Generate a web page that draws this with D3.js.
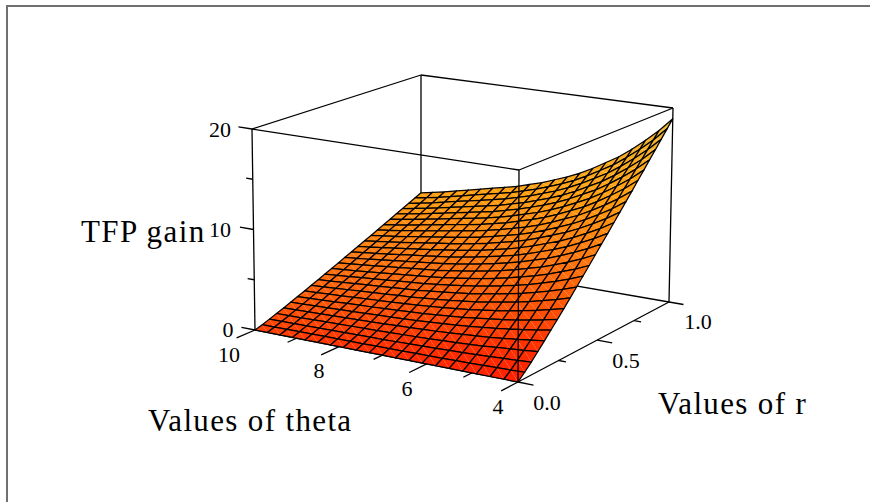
<!DOCTYPE html>
<html>
<head>
<meta charset="utf-8">
<script src="https://cdn.jsdelivr.net/npm/d3@7"></script>
<style>
  html, body { margin: 0; padding: 0; background: #fff; }
  text { font-family: "Liberation Serif", serif; fill: #000; }
</style>
</head>
<body>
<div id="chart"></div>
<script>
// values
var thetaValues = [4, 4.3, 4.6, 4.9, 5.2, 5.5, 5.8, 6.1, 6.4, 6.7, 7, 7.3, 7.6, 7.9, 8.2, 8.5, 8.8, 9.1, 9.4, 9.7, 10];
var rValues = [0, .04, .08, .12, .16, .2, .24, .28, .32, .36, .4, .44, .48, .52, .56, .6, .64, .68, .72, .76, .8, .84, .88, .92, .96, 1];

// one row per theta, one column per r
var gain = [
  [0,.59,1.23,1.91,2.61,3.33,4.04,4.78,5.52,6.27,7.03,7.79,8.56,9.34,10.11,10.89,11.68,12.46,13.25,14.06,14.86,15.67,16.46,17.27,18.09,18.9],
  [0,.54,1.14,1.77,2.42,3.08,3.75,4.43,5.11,5.81,6.51,7.21,7.93,8.65,9.36,10.08,10.82,11.53,12.27,13.02,13.76,14.51,15.24,16.00,16.75,17.5],
  [0,.51,1.06,1.65,2.25,2.87,3.49,4.12,4.76,5.41,6.06,6.72,7.38,8.05,8.72,9.39,10.07,10.74,11.43,12.13,12.81,13.51,14.20,14.90,15.60,16.3],
  [0,.47,.99,1.54,2.10,2.68,3.25,3.85,4.44,5.05,5.65,6.26,6.89,7.51,8.13,8.76,9.39,10.02,10.66,11.31,11.95,12.60,13.24,13.89,14.55,15.2],
  [0,.44,.92,1.43,1.96,2.50,3.04,3.59,4.15,4.71,5.28,5.85,6.43,7.01,7.60,8.18,8.78,9.36,9.95,10.56,11.16,11.77,12.37,12.98,13.59,14.2],
  [0,.42,.87,1.35,1.85,2.36,2.87,3.39,3.91,4.45,4.98,5.52,6.07,6.62,7.17,7.72,8.28,8.83,9.39,9.97,10.53,11.11,11.67,12.25,12.82,13.4],
  [0,.39,.82,1.27,1.74,2.22,2.70,3.19,3.68,4.18,4.69,5.19,5.71,6.22,6.74,7.26,7.79,8.30,8.83,9.37,9.90,10.45,10.97,11.52,12.06,12.6],
  [0,.37,.77,1.20,1.64,2.09,2.55,3.01,3.47,3.95,4.43,4.90,5.39,5.88,6.37,6.85,7.35,7.84,8.34,8.85,9.35,9.87,10.36,10.88,11.39,11.9],
  [0,.35,.73,1.14,1.56,1.99,2.42,2.86,3.30,3.75,4.20,4.66,5.12,5.58,6.05,6.51,6.98,7.45,7.92,8.41,8.88,9.37,9.84,10.33,10.81,11.3],
  [0,.33,.70,1.09,1.49,1.90,2.31,2.73,3.15,3.59,4.02,4.45,4.89,5.34,5.78,6.22,6.67,7.12,7.57,8.04,8.49,8.95,9.41,9.87,10.34,10.8],
  [0,.32,.67,1.04,1.42,1.81,2.20,2.61,3.01,3.42,3.83,4.24,4.67,5.09,5.51,5.93,6.37,6.79,7.22,7.66,8.10,8.54,8.97,9.41,9.86,10.3],
  [0,.31,.64,1.00,1.37,1.74,2.12,2.50,2.89,3.29,3.68,4.08,4.48,4.89,5.30,5.70,6.12,6.52,6.94,7.37,7.78,8.21,8.62,9.05,9.47,9.9],
  [0,.29,.62,.96,1.31,1.67,2.03,2.40,2.77,3.15,3.53,3.91,4.30,4.69,5.08,5.47,5.87,6.26,6.66,7.07,7.47,7.88,8.27,8.68,9.09,9.5],
  [0,.29,.60,.93,1.27,1.62,1.97,2.33,2.69,3.05,3.42,3.79,4.17,4.54,4.92,5.30,5.69,6.06,6.45,6.84,7.23,7.63,8.01,8.41,8.80,9.2],
  [0,.28,.58,.90,1.23,1.57,1.90,2.25,2.60,2.95,3.31,3.67,4.03,4.40,4.76,5.13,5.50,5.87,6.24,6.62,7.00,7.38,7.75,8.13,8.52,8.9],
  [0,.27,.56,.87,1.19,1.51,1.84,2.18,2.51,2.86,3.20,3.54,3.90,4.25,4.60,4.95,5.31,5.67,6.03,6.40,6.76,7.13,7.49,7.86,8.23,8.6],
  [0,.26,.54,.84,1.15,1.46,1.78,2.10,2.42,2.76,3.09,3.42,3.76,4.10,4.44,4.78,5.13,5.47,5.82,6.18,6.52,6.88,7.23,7.59,7.94,8.3],
  [0,.25,.52,.81,1.10,1.41,1.71,2.02,2.34,2.66,2.98,3.30,3.62,3.95,4.28,4.61,4.94,5.27,5.61,5.95,6.29,6.63,6.97,7.31,7.66,8.0],
  [0,.24,.50,.78,1.06,1.36,1.65,1.95,2.25,2.56,2.86,3.17,3.49,3.80,4.12,4.44,4.76,5.07,5.40,5.73,6.05,6.38,6.71,7.04,7.37,7.7],
  [0,.23,.48,.75,1.03,1.31,1.59,1.88,2.18,2.47,2.77,3.07,3.37,3.68,3.99,4.29,4.60,4.91,5.22,5.54,5.86,6.18,6.49,6.81,7.13,7.45],
  [0,.22,.47,.73,.99,1.27,1.54,1.82,2.10,2.39,2.68,2.97,3.26,3.56,3.85,4.15,4.45,4.74,5.05,5.36,5.66,5.97,6.27,6.58,6.89,7.2]
];

var thetaTicks = [10, 9, 8, 7, 6, 5, 4];
var rTicks = [0, .25, .5, .75, 1];
var zTicks = [0, 5, 10, 15, 20];

var width = 870, height = 502;

var svg = d3.select("#chart").append("svg")
  .attr("width", width)
  .attr("height", height)
  .style("display", "block");

// page frame, left and top only
svg.append("path")
  .attr("d", "M7,502V6H870")
  .attr("fill", "none")
  .attr("stroke", "#707070")
  .attr("stroke-width", 2);

// box corners on screen: theta=10/r=0, theta=4/r=0, theta=4/r=1, theta=10/r=1
var floorQuad = [[255, 330], [518, 382], [669, 302], [421, 259]];
var topQuad = [[252, 129], [519, 170], [673, 108], [421, 75]];

// unit square -> quad (perspective)
function homography(q) {
  var dx1 = q[1][0] - q[2][0], dx2 = q[3][0] - q[2][0], sx = q[0][0] - q[1][0] + q[2][0] - q[3][0];
  var dy1 = q[1][1] - q[2][1], dy2 = q[3][1] - q[2][1], sy = q[0][1] - q[1][1] + q[2][1] - q[3][1];
  var den = dx1 * dy2 - dx2 * dy1;
  var g = (sx * dy2 - dx2 * sy) / den, h = (dx1 * sy - sx * dy1) / den;
  var a = q[1][0] - q[0][0] + g * q[1][0], b = q[3][0] - q[0][0] + h * q[3][0];
  var d = q[1][1] - q[0][1] + g * q[1][1], e = q[3][1] - q[0][1] + h * q[3][1];
  return function(u, v) {
    var w = g * u + h * v + 1;
    return [(a * u + b * v + q[0][0]) / w, (d * u + e * v + q[0][1]) / w];
  };
}

var floorMap = homography(floorQuad);
var topMap = homography(topQuad);

var uScale = d3.scaleLinear().domain([10, 4]).range([0, 1]);
var vScale = d3.scaleLinear().domain([0, 1]).range([0, 1]);
var wScale = d3.scaleLinear().domain([0, 20]).range([0, 1]);

// data space -> screen
function project(theta, r, z) {
  var p0 = floorMap(uScale(theta), vScale(r));
  var p1 = topMap(uScale(theta), vScale(r));
  var w = wScale(z);
  return [p0[0] + (p1[0] - p0[0]) * w, p0[1] + (p1[1] - p0[1]) * w];
}

var line = d3.line();
var ink = "#000";

function seg(g, a, b, sw) {
  g.append("path")
    .attr("d", line([a, b]))
    .attr("fill", "none")
    .attr("stroke", ink)
    .attr("stroke-width", sw || 1.3);
}

// back part of the box, under the surface
var back = svg.append("g");
seg(back, project(10, 1, 0), project(10, 1, 20));
seg(back, project(10, 0, 20), project(10, 1, 20));
seg(back, project(10, 1, 20), project(4, 1, 20));
seg(back, project(10, 0, 20), project(4, 0, 20));
seg(back, project(4, 0, 20), project(4, 1, 20));
seg(back, project(10, 0, 0), project(10, 0, 20));
seg(back, project(4, 1, 0), project(4, 1, 20));
seg(back, project(10, 1, 0), project(4, 1, 0));
seg(back, project(4, 0, 0), project(4, 1, 0));
seg(back, project(10, 0, 0), project(4, 0, 0));

// colour follows the height on screen
var shade = d3.scaleLinear()
  .domain([382, 345, 300, 255, 193, 119])
  .range(["#ff1e00", "#ff3200", "#ff5a08", "#ff7a10", "#ffa010", "#ecb838"])
  .clamp(true);

var cells = [];
d3.range(rValues.length - 2, -1, -1).forEach(function(j) {
  d3.range(thetaValues.length - 1, 0, -1).forEach(function(i) {
    var a = project(thetaValues[i], rValues[j], gain[i][j]);
    var b = project(thetaValues[i - 1], rValues[j], gain[i - 1][j]);
    var c = project(thetaValues[i - 1], rValues[j + 1], gain[i - 1][j + 1]);
    var d = project(thetaValues[i], rValues[j + 1], gain[i][j + 1]);
    cells.push([a, b, c, d]);
  });
});

var surface = svg.append("g");
var cell = surface.selectAll("g.cell")
  .data(cells)
  .enter().append("g")
  .attr("class", "cell");

// two triangles, the seam between them shows faintly as in the original
cell.append("path")
  .attr("d", function(d) { return line([d[0], d[1], d[3]]) + "Z"; })
  .attr("fill", function(d) { return shade((d[0][1] + d[1][1] + d[2][1] + d[3][1]) / 4); });
cell.append("path")
  .attr("d", function(d) { return line([d[1], d[2], d[3]]) + "Z"; })
  .attr("fill", function(d) { return shade((d[0][1] + d[1][1] + d[2][1] + d[3][1]) / 4); });
cell.append("path")
  .attr("d", function(d) { return line(d) + "Z"; })
  .attr("fill", "none")
  .attr("stroke", ink)
  .attr("stroke-width", 1.25)
  .attr("stroke-linejoin", "round");

// front vertical edge stays on top of the surface
var front = svg.append("g");
seg(front, project(4, 0, 0), project(4, 0, 20));

// ticks stick out of the box along the other floor direction
var ticks = svg.append("g");
zTicks.forEach(function(z) {
  var len = z % 10 === 0 ? 0.33 : 0.16;
  seg(ticks, project(10, 0, z), project(10 + len, 0, z));
});
thetaTicks.forEach(function(t) {
  var len = t % 2 === 0 ? 0.1 : 0.05;
  seg(ticks, project(t, 0, 0), project(t, -len, 0));
});
rTicks.forEach(function(r) {
  var len = r === 0.25 || r === 0.75 ? 0.16 : 0.33;
  seg(ticks, project(4, r, 0), project(4 - len, r, 0));
});

function label(str, x, y, size, anchor, spacing) {
  svg.append("text")
    .attr("x", x)
    .attr("y", y)
    .attr("text-anchor", anchor || "middle")
    .attr("font-size", size)
    .attr("letter-spacing", spacing || 0)
    .text(str);
}

label("20", 220, 137, 22);
label("10", 220, 237, 22);
label("0", 228, 337, 22);
label("10", 229, 361.5, 22);
label("8", 319, 378, 22);
label("6", 407, 396, 22);
label("4", 498, 414, 22);
label("0.0", 547, 410, 22);
label("0.5", 626, 368, 22);
label("1.0", 698, 329, 22);

label("TFP gain", 81, 242, 31, "start", 1.4);
label("Values of theta", 148, 431, 31, "start", 1.35);
label("Values of r", 658, 414, 31, "start", 1.35);
</script>
</body>
</html>
